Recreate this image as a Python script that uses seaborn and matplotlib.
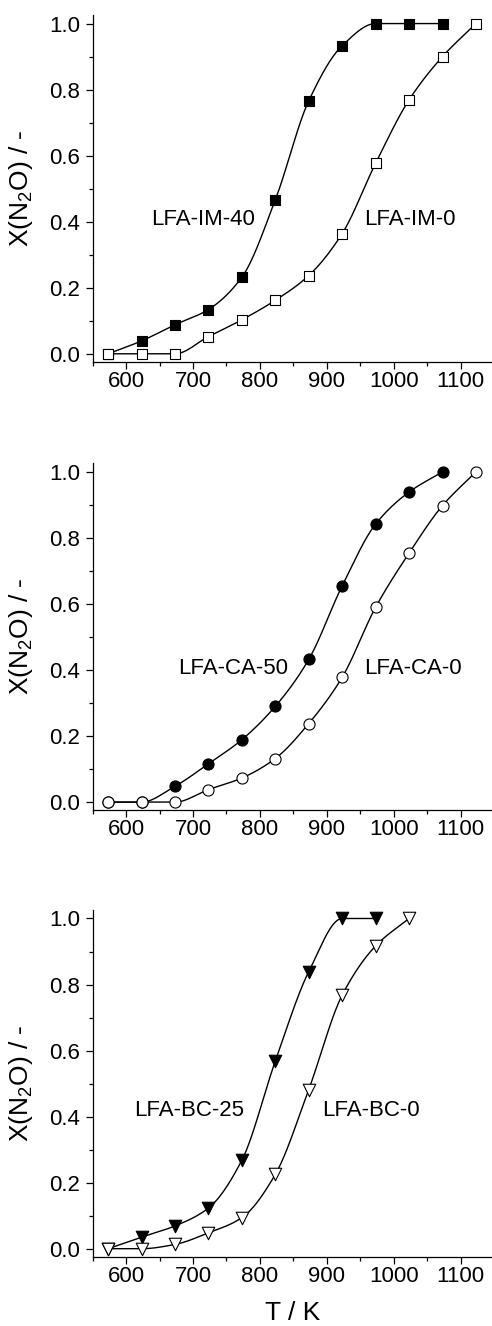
import numpy as np
import pandas as pd
import matplotlib
matplotlib.use('Agg')
import matplotlib.pyplot as plt
import seaborn as sns
from matplotlib.ticker import MultipleLocator, FormatStrFormatter

# Temperatures (K)
temps_a = [573, 623, 673, 723, 773, 823, 873, 923, 973, 1023, 1073]
temps_b = [573, 623, 673, 723, 773, 823, 873, 923, 973, 1023, 1073, 1123]
temps_c = [573, 623, 673, 723, 773, 823, 873, 923, 973]
temps_d = [573, 623, 673, 723, 773, 823, 873, 923, 973, 1023]

# N2O conversion
im_40 = [0.0, 0.039, 0.088, 0.134, 0.232, 0.466, 0.766, 0.933, 1.0, 1.0, 1.0]
im_0 = [0.0, 0.0, 0.0, 0.052, 0.103, 0.162, 0.237, 0.364, 0.577, 0.769, 0.900, 1.0]
ca_50 = [0.0, 0.0, 0.048, 0.116, 0.189, 0.290, 0.432, 0.655, 0.842, 0.939, 1.0]
ca_0 = [0.0, 0.0, 0.0, 0.038, 0.073, 0.132, 0.238, 0.378, 0.590, 0.754, 0.898, 1.0]
bc_25 = [0.0, 0.035, 0.069, 0.123, 0.268, 0.568, 0.839, 1.0, 1.0]
bc_0 = [0.0, 0.0, 0.013, 0.048, 0.094, 0.225, 0.482, 0.768, 0.917, 1.0]

labels = ['LFA-IM-40', 'LFA-IM-0', 'LFA-CA-50', 'LFA-CA-0', 'LFA-BC-25', 'LFA-BC-0']


def pchip(x, y, n=300):
    '''
    Monotone cubic curve through the measured points, used to draw the smooth line.
    '''
    x = np.asarray(x, float)
    y = np.asarray(y, float)
    h = np.diff(x)
    d = np.diff(y) / h
    m = np.zeros_like(y)
    for k in range(1, len(x) - 1):
        if d[k - 1] * d[k] > 0:
            w1 = 2 * h[k] + h[k - 1]
            w2 = h[k] + 2 * h[k - 1]
            m[k] = (w1 + w2) / (w1 / d[k - 1] + w2 / d[k])
    m[0] = d[0] if d[0] * d[1] > 0 else 0
    m[-1] = d[-1] if d[-1] * d[-2] > 0 else 0
    xs = np.linspace(x[0], x[-1], n)
    idx = np.clip(np.searchsorted(x, xs) - 1, 0, len(x) - 2)
    t = (xs - x[idx]) / h[idx]
    h00 = 2 * t**3 - 3 * t**2 + 1
    h10 = t**3 - 2 * t**2 + t
    h01 = -2 * t**3 + 3 * t**2
    h11 = t**3 - t**2
    ys = h00 * y[idx] + h10 * h[idx] * m[idx] + h01 * y[idx + 1] + h11 * h[idx] * m[idx + 1]
    return xs, ys


sns.set_theme(style='ticks')
plt.rcParams['font.family'] = ['Liberation Sans', 'DejaVu Sans']
plt.rcParams['mathtext.fontset'] = 'custom'
plt.rcParams['mathtext.rm'] = 'Liberation Sans'
plt.rcParams['mathtext.it'] = 'Liberation Sans'
for key in ('text.color', 'axes.labelcolor', 'xtick.color', 'ytick.color', 'axes.edgecolor'):
    plt.rcParams[key] = 'black'

fig = plt.figure(figsize=(4.92, 13.26), dpi=100)

panels = [
    (0.7272, (temps_a, im_40, 's', 'black', 7.2), (temps_b, im_0, 's', 'white', 7.2),
     (715, 1024, 0.406)),
    (0.3891, (temps_a, ca_50, 'o', 'black', 8), (temps_b, ca_0, 'o', 'white', 8),
     (760, 1029, 0.405)),
    (0.0523, (temps_c, bc_25, 'v', 'black', 9), (temps_d, bc_0, 'v', 'white', 9),
     (694, 966, 0.418)),
]

for i, (bottom, s1, s2, lab) in enumerate(panels):
    ax = fig.add_axes([0.1884, bottom, 0.8116, 0.2615])
    for tx, val, mk, fc, ms in (s1, s2):
        xs, ys = pchip(tx, val)
        sns.lineplot(x=xs, y=ys, ax=ax, color='black', lw=1.0, zorder=2)
        df = pd.DataFrame({'T': tx, 'X': val})
        sns.scatterplot(data=df, x='T', y='X', ax=ax, marker=mk, s=ms ** 2,
                        facecolor=fc, edgecolor='black', linewidth=0.8, zorder=3)
    ax.text(lab[0], lab[2], labels[2 * i], ha='center', va='center', fontsize=16)
    ax.text(lab[1], lab[2], labels[2 * i + 1], ha='center', va='center', fontsize=16)

    ax.set_xlim(550, 1147)
    ax.set_ylim(-0.024, 1.026)
    ax.xaxis.set_major_locator(MultipleLocator(100))
    ax.xaxis.set_minor_locator(MultipleLocator(50))
    ax.yaxis.set_major_locator(MultipleLocator(0.2))
    ax.yaxis.set_minor_locator(MultipleLocator(0.1))
    ax.yaxis.set_major_formatter(FormatStrFormatter('%.1f'))
    ax.tick_params(which='major', direction='out', length=4.8, width=0.9,
                   labelsize=16, color='black', labelcolor='black')
    ax.tick_params(which='minor', direction='out', length=3, width=0.9, color='black')
    ax.tick_params(axis='x', pad=2)
    ax.tick_params(axis='y', pad=4)
    sns.despine(ax=ax)
    for sp in ('left', 'bottom'):
        ax.spines[sp].set_linewidth(0.9)
        ax.spines[sp].set_color('black')
    ax.set_ylabel('X(N$_2$O) / -', fontsize=19)
    ax.yaxis.set_label_coords(-0.145, 0.5)
    if i == 2:
        ax.set_xlabel('T / K', fontsize=19, labelpad=10)
    else:
        ax.set_xlabel('')

fig.savefig('out.png', dpi=100)
